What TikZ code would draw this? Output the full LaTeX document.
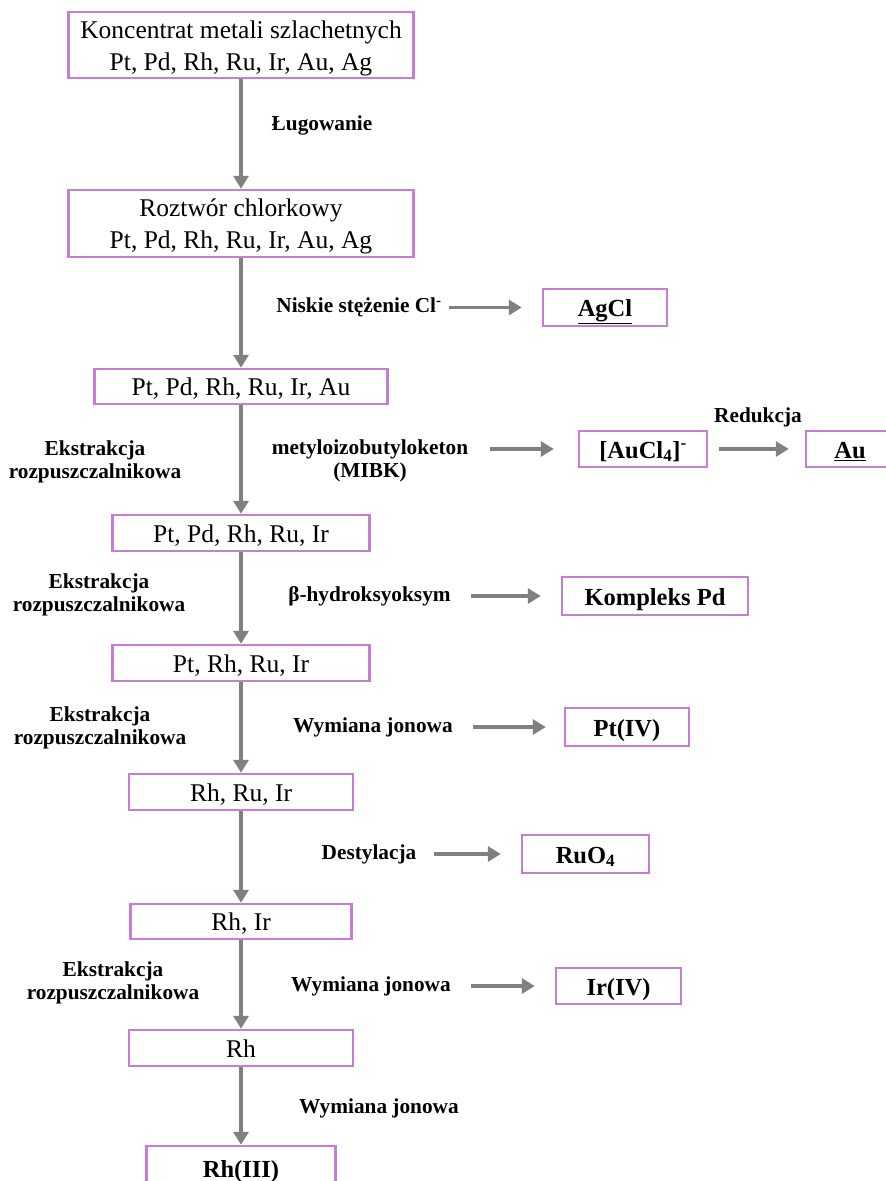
\documentclass[tikz,border=0pt]{standalone}
\usepackage{fontspec}
\setmainfont{Liberation Serif}
\usetikzlibrary{arrows.meta}
\definecolor{boxline}{RGB}{199,125,214}
\definecolor{flowgray}{RGB}{128,128,128}

\begin{document}
\begin{tikzpicture}[x=1pt,y=-1pt]
\tikzstyle{box}=[draw=boxline,line width=2.5pt,inner sep=0pt,align=center,text height=21pt,text depth=3pt,font=\fontsize{25.5}{32}\selectfont]
\tikzstyle{twoline}=[box,text height=53pt]
\tikzstyle{res}=[box,font=\fontsize{24.5}{30}\selectfont\bfseries]
\tikzstyle{lbl}=[inner sep=0pt,align=center,font=\fontsize{21.3}{23}\selectfont\bfseries]
\tikzstyle{flow}=[draw=flowgray,line width=4pt,-{Triangle[length=13pt,width=15pt]}]
\tikzstyle{side}=[flow,line width=3.5pt,shorten <=20pt,shorten >=20pt]
\useasboundingbox (0,0) rectangle (886,1181);
\node[twoline,minimum width=345,minimum height=66] (konc) at (241,45) {Koncentrat metali szlachetnych\\Pt, Pd, Rh, Ru, Ir, Au, Ag};
\node[twoline,minimum width=345,minimum height=67] (roztw) at (241,223.5) {Roztwór chlorkowy\\Pt, Pd, Rh, Ru, Ir, Au, Ag};
\node[box,minimum width=293,minimum height=35] (bezAg) at (241,386.5) {Pt, Pd, Rh, Ru, Ir, Au};
\node[box,minimum width=257,minimum height=36] (bezAu) at (241,533) {Pt, Pd, Rh, Ru, Ir};
\node[box,minimum width=257,minimum height=36] (bezPd) at (241,663) {Pt, Rh, Ru, Ir};
\node[box,minimum width=224,minimum height=36] (bezPt) at (241,792) {Rh, Ru, Ir};
\node[box,minimum width=221,minimum height=35] (bezRu) at (241,921.5) {Rh, Ir};
\node[box,minimum width=224,minimum height=36] (bezIr) at (241,1048) {Rh};
\node[res,minimum width=189,minimum height=44] (rh3) at (241,1168) {Rh(III)};
\node[res,minimum width=124,minimum height=37] (agcl) at (605,307.5) {\underline{AgCl}};
\node[res,minimum width=128,minimum height=36] (aucl) at (643,449) {[AuCl\textsubscript{4}]\textsuperscript{-}};
\node[res,minimum width=88,minimum height=36] (au) at (850,449) {\underline{Au}};
\node[res,minimum width=186,minimum height=38] (kompd) at (655,596) {Kompleks Pd};
\node[res,minimum width=124,minimum height=38] (pt4) at (627,727) {Pt(IV)};
\node[res,minimum width=127,minimum height=38] (ruo4) at (585.5,854) {RuO\textsubscript{4}};
\node[res,minimum width=125,minimum height=36] (ir4) at (618.5,986) {Ir(IV)};
\node[lbl] (lug) at (322,125) {Ługowanie};
\node[lbl] (nisk) at (359,307.5) {Niskie stężenie Cl\textsuperscript{-}};
\node[lbl] (mibk) at (370,461) {metyloizobutyloketon\\(MIBK)};
\node[lbl] (red) at (758,417) {Redukcja};
\node[lbl] (oksym) at (369.5,596) {β-hydroksyoksym};
\node[lbl] (wym1) at (373,727) {Wymiana jonowa};
\node[lbl] (dest) at (369,854) {Destylacja};
\node[lbl] (wym2) at (371,986) {Wymiana jonowa};
\node[lbl] (wym3) at (379,1108) {Wymiana jonowa};
\node[lbl] (ekstr1) at (95,462) {Ekstrakcja\\rozpuszczalnikowa};
\node[lbl] (ekstr2) at (99,595) {Ekstrakcja\\rozpuszczalnikowa};
\node[lbl] (ekstr3) at (100,728) {Ekstrakcja\\rozpuszczalnikowa};
\node[lbl] (ekstr4) at (113,983) {Ekstrakcja\\rozpuszczalnikowa};
\draw[flow] (konc) -- (roztw);
\draw[flow] (roztw) -- (bezAg);
\draw[flow] (bezAg) -- (bezAu);
\draw[flow] (bezAu) -- (bezPd);
\draw[flow] (bezPd) -- (bezPt);
\draw[flow] (bezPt) -- (bezRu);
\draw[flow] (bezRu) -- (bezIr);
\draw[flow] (bezIr) -- (rh3);
\draw[side,shorten <=7pt] (nisk) -- (agcl);
\draw[side,shorten <=22pt,shorten >=24pt] (mibk.east |- aucl) -- (aucl);
\draw[side,shorten <=11pt,shorten >=16pt] (aucl) -- (au);
\draw[side] (oksym) -- (kompd);
\draw[side,shorten >=18pt] (wym1) -- (pt4);
\draw[side,shorten <=17pt] (dest) -- (ruo4);
\draw[side] (wym2) -- (ir4);
\end{tikzpicture}
\end{document}
